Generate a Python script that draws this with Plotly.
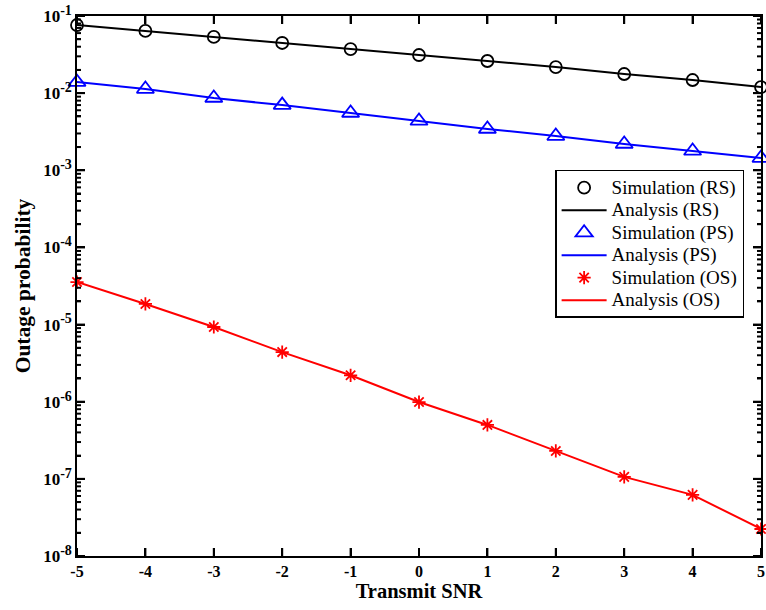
import plotly.graph_objects as go

snr = [-5, -4, -3, -2, -1, 0, 1, 2, 3, 4, 5]
rs_vals = [0.0764, 0.064, 0.0535, 0.0447, 0.0373, 0.0312, 0.0261, 0.0218, 0.0177, 0.0148, 0.0120]
ps_vals = [0.0139, 0.0113, 0.00865, 0.0070, 0.00553, 0.00436, 0.00343, 0.00278, 0.00219, 0.00178, 0.00144]
os_vals = [3.56e-5, 1.85e-5, 9.3e-6, 4.4e-6, 2.2e-6, 9.9e-7, 5.0e-7, 2.3e-7, 1.06e-7, 6.2e-8, 2.24e-8]

x_ticks = [-5, -4, -3, -2, -1, 0, 1, 2, 3, 4, 5]
y_exponents = [-8, -7, -6, -5, -4, -3, -2, -1]
minor_factors = [2, 3, 4, 5, 6, 7, 8, 9]

y_tickvals = [10.0 ** e for e in y_exponents]
y_ticktext = ["10<sup><span style='font-size:14px'>%d</span></sup>" % e for e in y_exponents]

FONT = "Liberation Serif"
LEG_FS = "19px"

W, H = 766, 610
ML, MR, MT, MB = 77, 5, 16, 54
X_RANGE = [x_ticks[0], x_ticks[-1]]
Y_RANGE = [y_exponents[0], y_exponents[-1]]

fig = go.Figure()
series = [
    ("RS", rs_vals, "black", "circle-open", 12),
    ("PS", ps_vals, "blue", "triangle-up-open", 15),
    ("OS", os_vals, "red", "asterisk-open", 11),
]
for name, vals, col, sym, sz in series:
    fig.add_trace(go.Scatter(
        x=snr, y=vals, mode="markers",
        name="<span style='font-size:%s'>Simulation (%s)</span>" % (LEG_FS, name),
        marker=dict(symbol=sym, size=sz, color=col, line=dict(color=col, width=1.8)),
        cliponaxis=False,
    ))
    fig.add_trace(go.Scatter(
        x=snr, y=vals, mode="lines",
        name="<span style='font-size:%s'>Analysis (%s)</span>" % (LEG_FS, name),
        line=dict(color=col, width=2),
    ))

# inside ticks on all four sides, derived from the tick arrays and the axis scale
px_per_x = (W - ML - MR) / (X_RANGE[1] - X_RANGE[0])
px_per_dec = (H - MT - MB) / (Y_RANGE[1] - Y_RANGE[0])
tx, ty = [], []
for v in x_ticks:
    d = 8 / px_per_dec
    tx += [v, v, None, v, v, None]
    ty += [10.0 ** Y_RANGE[0], 10.0 ** (Y_RANGE[0] + d), None,
           10.0 ** Y_RANGE[1], 10.0 ** (Y_RANGE[1] - d), None]
for e in y_exponents:
    levels = [(10.0 ** e, 8)]
    if e < Y_RANGE[1]:
        levels += [(f * 10.0 ** e, 4) for f in minor_factors]
    for val, ln in levels:
        d = ln / px_per_x
        tx += [X_RANGE[0], X_RANGE[0] + d, None, X_RANGE[1], X_RANGE[1] - d, None]
        ty += [val, val, None, val, val, None]
fig.add_trace(go.Scatter(
    x=tx, y=ty, mode="lines", line=dict(color="black", width=2),
    showlegend=False, hoverinfo="skip", connectgaps=False,
))

fig.update_layout(
    width=W, height=H,
    margin=dict(l=ML, r=MR, t=MT, b=MB, autoexpand=False),
    plot_bgcolor="white", paper_bgcolor="white",
    font=dict(family=FONT, color="black"),
    showlegend=True,
    legend=dict(
        x=0.699, y=0.715, xanchor="left", yanchor="top",
        bgcolor="white", bordercolor="black", borderwidth=1.5,
        font=dict(family=FONT, size=15, color="black"),
        tracegroupgap=0, itemwidth=45,
    ),
    xaxis=dict(
        range=X_RANGE, tickmode="array", tickvals=x_ticks, ticktext=[str(v) for v in x_ticks],
        ticks="inside", ticklen=8, tickwidth=2, tickcolor="black",
        showline=True, linecolor="black", linewidth=1.5, mirror="ticks",
        showgrid=False, zeroline=False,
        tickfont=dict(family=FONT, size=16, color="black", weight="bold"),
        title=dict(text="<b>Transmit SNR</b>", font=dict(family=FONT, size=20.5), standoff=0),
    ),
    yaxis=dict(
        type="log", range=Y_RANGE, tickmode="array", tickvals=y_tickvals, ticktext=y_ticktext,
        ticks="inside", ticklen=8, tickwidth=2, tickcolor="black",
        minor=dict(ticks="inside", ticklen=4, tickwidth=1.5, tickcolor="black", showgrid=False),
        showline=True, linecolor="black", linewidth=1.5, mirror="ticks",
        showgrid=False, zeroline=False,
        tickfont=dict(family=FONT, size=17, color="black", weight="bold"),
        title=dict(text="<b>Outage probability</b>", font=dict(family=FONT, size=21.5), standoff=7),
    ),
)

fig.write_html("out.html", config={"displayModeBar": False},
               post_script="document.body.style.margin='0';document.body.style.overflow='hidden';")
